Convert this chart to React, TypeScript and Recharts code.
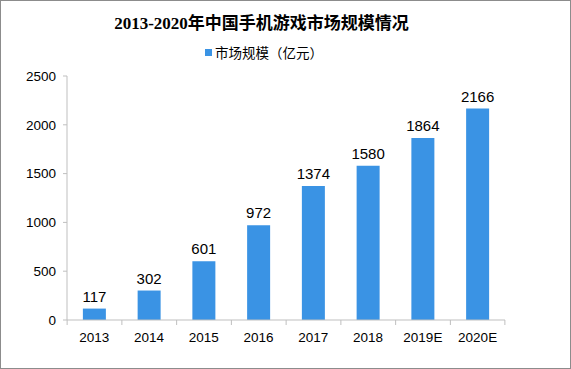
import { BarChart, Bar, XAxis, YAxis, LabelList } from "recharts";

const years = ["2013", "2014", "2015", "2016", "2017", "2018", "2019E", "2020E"];
const marketSize = [117, 302, 601, 972, 1374, 1580, 1864, 2166];
const yTicks = [0, 500, 1000, 1500, 2000, 2500];

const data = years.map((year, i) => ({ year, value: marketSize[i] }));

const W = 571;
const H = 369;
const BAND = (503 - 67) / years.length;

function XTick(props: any) {
  const { x, y, payload } = props;
  return (
    <g>
      <line x1={x - BAND / 2} y1={y - 8} x2={x - BAND / 2} y2={y - 3} stroke="#bfbfbf" />
      {payload.index === years.length - 1 && (
        <line x1={x + BAND / 2} y1={y - 8} x2={x + BAND / 2} y2={y - 3} stroke="#bfbfbf" />
      )}
      <text x={x} y={y + 14} textAnchor="middle" fontSize={13.5} fill="#000"
        fontFamily="'Liberation Sans', Arial, sans-serif">
        {payload.value}
      </text>
    </g>
  );
}

export default function App() {
  return (
    <div
      style={{
        position: "absolute",
        left: 0,
        top: 0,
        width: W,
        height: H,
        background: "#fff",
        border: "1px solid #8c8c8c",
        boxSizing: "border-box",
      }}
    >
      <div
        style={{
          position: "absolute",
          top: 8,
          left: -25,
          width: W,
          textAlign: "center",
          fontSize: 17,
          fontWeight: "bold",
          fontFamily: "'Liberation Serif', 'Noto Sans CJK SC', serif",
          color: "#000",
        }}
      >
        2013-2020年中国手机游戏市场规模情况
      </div>
      <div
        style={{
          position: "absolute",
          top: 41,
          left: 204,
          display: "flex",
          alignItems: "center",
          fontSize: 13.5,
          fontFamily: "'Noto Sans CJK SC', sans-serif",
          color: "#000",
        }}
      >
        <span style={{ display: "inline-block", width: 7, height: 7, background: "#3a93e4", marginRight: 3 }} />
        市场规模（亿元）
      </div>
      <BarChart
        width={W - 2}
        height={H - 2}
        data={data}
        margin={{ top: 75, right: 65, bottom: 18, left: 0 }}
        barCategoryGap="29%"
      >
        <XAxis
          dataKey="year"
          tickLine={false}
          axisLine={{ stroke: "#bfbfbf" }}
          tick={<XTick />}
          interval={0}
          height={30}
        />
        <YAxis
          domain={[0, 2500]}
          ticks={yTicks}
          width={66}
          axisLine={{ stroke: "#bfbfbf" }}
          tickLine={{ stroke: "#bfbfbf" }}
          tickSize={4}
          tickMargin={7}
          tick={{ fontSize: 13.5, fill: "#000", fontFamily: "'Liberation Sans', Arial, sans-serif" }}
        />
        <Bar dataKey="value" fill="#3a93e4" isAnimationActive={false}>
          <LabelList
            dataKey="value"
            position="top"
            offset={7}
            fill="#000"
            fontSize={15}
            fontFamily="'Liberation Sans', Arial, sans-serif"
          />
        </Bar>
      </BarChart>
    </div>
  );
}
